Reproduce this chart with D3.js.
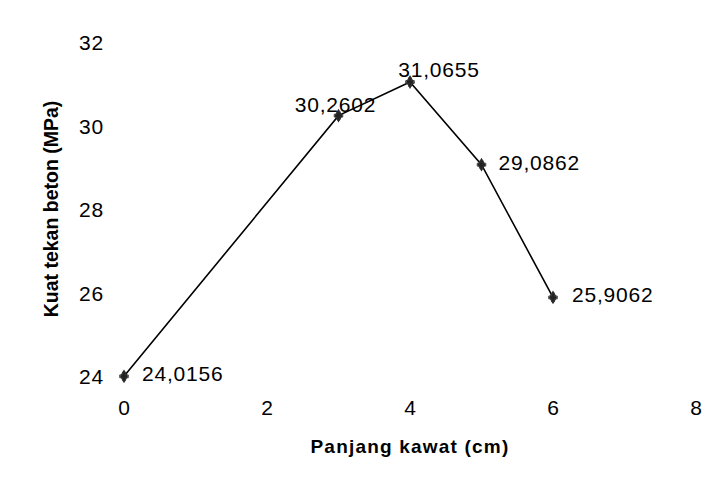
<!DOCTYPE html>
<html>
<head>
<meta charset="utf-8">
<script src="https://cdn.jsdelivr.net/npm/d3@7"></script>
<style>
  html, body { margin: 0; padding: 0; background: #fff; }
  svg { display: block; }
  text { font-family: Arial, "Liberation Sans", sans-serif; fill: #000; }
</style>
</head>
<body>
<div id="chart"></div>
<script>
// Wire length (cm) vs. concrete compressive strength (MPa)
const panjangKawat = [0, 3, 4, 5, 6];
const kuatTekan = [24.0156, 30.2602, 31.0655, 29.0862, 25.9062];
const xTicks = [0, 2, 4, 6, 8];
const yTicks = [24, 26, 28, 30, 32];
const xTitle = "Panjang kawat (cm)";
const yTitle = "Kuat tekan beton (MPa)";

// where each value label sits relative to its point: [dx, dy, anchor]
const labelPlacement = [
  [18, 5, "start"],
  [-3, -4, "middle"],
  [29, -5, "middle"],
  [17, 5, "start"],
  [19, 5, "start"]
];

const W = 711, H = 485;
const svg = d3.select("#chart").append("svg")
  .attr("width", W).attr("height", H);

const x = d3.scaleLinear().domain([0, 8]).range([124, 696]);
const y = d3.scaleLinear().domain([24, 32]).range([377, 43]);

const fmt = v => v.toFixed(4).replace(".", ",");

// axes: labels only, no axis lines
const gx = svg.append("g").attr("transform", `translate(0,${y(24)})`)
  .call(d3.axisBottom(x).tickValues(xTicks).tickSize(0).tickPadding(23)
    .tickFormat(d3.format("d")));
const gy = svg.append("g").attr("transform", `translate(${x(0)},0)`)
  .call(d3.axisLeft(y).tickValues(yTicks).tickSize(0).tickPadding(20)
    .tickFormat(d3.format("d")));
[gx, gy].forEach(g => {
  g.select(".domain").remove();
  g.selectAll("text")
    .style("font-family", "Arial, 'Liberation Sans', sans-serif")
    .style("font-size", "21px")
    .style("letter-spacing", "0.8px")
    .attr("fill", "#000");
});

// axis titles
svg.append("text")
  .attr("x", 410).attr("y", 453)
  .attr("text-anchor", "middle")
  .style("font-size", "19px").style("font-weight", "bold")
  .style("letter-spacing", "1.2px")
  .text(xTitle);
svg.append("text")
  .attr("transform", "translate(58,209) rotate(-90)")
  .attr("text-anchor", "middle")
  .style("font-size", "19.5px").style("font-weight", "bold")
  .text(yTitle);

const pts = panjangKawat.map((v, i) => ({ x: v, y: kuatTekan[i], i }));

// series line
svg.append("path")
  .datum(pts)
  .attr("fill", "none")
  .attr("stroke", "#000")
  .attr("stroke-width", 1.6)
  .attr("d", d3.line().x(d => x(d.x)).y(d => y(d.y)));

// point markers
const mk = svg.append("g").selectAll("g").data(pts).join("g")
  .attr("transform", d => `translate(${x(d.x)},${y(d.y)})`);
mk.append("path")
  .attr("d", d3.symbol(d3.symbolDiamond, 55))
  .attr("fill", "#222");
mk.append("path")
  .attr("d", d3.symbol(d3.symbolCross, 40))
  .attr("fill", "none").attr("stroke", "#333").attr("stroke-width", 1);

// value labels
svg.append("g").selectAll("text").data(pts).join("text")
  .attr("x", d => x(d.x) + labelPlacement[d.i][0])
  .attr("y", d => y(d.y) + labelPlacement[d.i][1])
  .attr("text-anchor", d => labelPlacement[d.i][2])
  .style("font-size", "21px")
  .style("letter-spacing", "0.8px")
  .text(d => fmt(d.y));
</script>
</body>
</html>
